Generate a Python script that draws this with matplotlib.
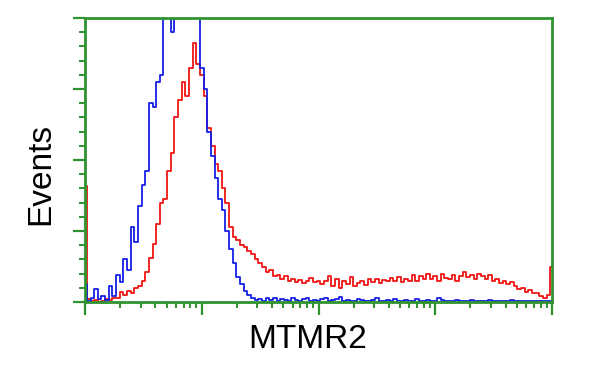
import numpy as np
import matplotlib
matplotlib.use("Agg")
import matplotlib.pyplot as plt
from matplotlib.ticker import LogLocator, MultipleLocator, NullFormatter

# 通道：4个数量级，每个数量级32个通道
N_CH = 129
channels = 10 ** (np.arange(N_CH) / 32.0)

# 对照（蓝色）
blue_counts = [
    0.25, 0.02, 0.05, 0.18, 0.04, 0.08, 0.03, 0.22, 0.08, 0.38,
    0.28, 0.60, 0.45, 1.05, 0.85, 1.35, 1.65, 1.85, 2.80, 2.75,
    3.10, 3.20, 4.40, 4.60, 3.80, 4.80, 5.00, 5.10, 4.90, 4.80,
    4.50, 4.20, 3.30, 3.00, 2.40, 2.05, 1.75, 1.45, 1.30, 1.00,
    0.75, 0.55, 0.35, 0.25, 0.15, 0.10, 0.06, 0.03, 0.04, 0.02,
    0.05, 0.03, 0.06, 0.02, 0.04, 0.03, 0.02, 0.05, 0.03, 0.01,
    0.04, 0.06, 0.02, 0.03, 0.01, 0.04, 0.05, 0.02, 0.03, 0.04,
    0.07, 0.02, 0.03, 0.01, 0.02, 0.04, 0.03, 0.01, 0.02, 0.03,
    0.05, 0.02, 0.01, 0.03, 0.02, 0.04, 0.01, 0.02, 0.03, 0.01,
    0.02, 0.04, 0.02, 0.01, 0.03, 0.02, 0.01, 0.05, 0.03, 0.02,
    0.01, 0.02, 0.03, 0.01, 0.02, 0.01, 0.03, 0.02, 0.01, 0.02,
    0.01, 0.03, 0.01, 0.02, 0.01, 0.02, 0.01, 0.03, 0.02, 0.01,
    0.02, 0.01, 0.01, 0.02, 0.01, 0.01, 0.02, 0.01, 0.02,
]

# MTMR2（红色）
red_counts = [
    1.63, 0.04, 0.02, 0.03, 0.00, 0.02, 0.04, 0.03, 0.06, 0.05,
    0.14, 0.10, 0.15, 0.12, 0.20, 0.22, 0.30, 0.42, 0.62, 0.82,
    1.10, 1.40, 1.45, 1.85, 2.10, 2.60, 2.85, 3.10, 2.90, 3.30,
    3.65, 3.35, 3.20, 2.90, 2.45, 2.20, 1.95, 1.85, 1.60, 1.40,
    1.06, 0.92, 0.88, 0.80, 0.78, 0.72, 0.68, 0.60, 0.55, 0.50,
    0.42, 0.45, 0.36, 0.38, 0.33, 0.36, 0.30, 0.32, 0.28, 0.31,
    0.27, 0.29, 0.34, 0.28, 0.30, 0.26, 0.30, 0.36, 0.22, 0.33,
    0.20, 0.30, 0.25, 0.35, 0.22, 0.27, 0.30, 0.24, 0.32, 0.28,
    0.33, 0.27, 0.31, 0.30, 0.34, 0.30, 0.35, 0.28, 0.33, 0.30,
    0.38, 0.30, 0.37, 0.32, 0.40, 0.33, 0.36, 0.30, 0.40, 0.34,
    0.33, 0.38, 0.30, 0.36, 0.42, 0.35, 0.38, 0.32, 0.40, 0.36,
    0.33, 0.38, 0.30, 0.32, 0.27, 0.30, 0.25, 0.28, 0.22, 0.18,
    0.20, 0.14, 0.17, 0.12, 0.13, 0.08, 0.06, 0.10, 0.50,
]

green = "#2f9330"

fig = plt.figure(figsize=(6, 3.75), dpi=100)
ax = fig.add_axes([85 / 600, 73 / 375, 467 / 600, 284 / 375])

ax.step(channels, red_counts, where="mid", color="#f01414", lw=1.3)
ax.step(channels, blue_counts, where="mid", color="#1420e6", lw=1.3)

ax.set_xscale("log")
ax.set_xlim(1, 1e4)
ax.set_ylim(0, 4)

ax.xaxis.set_major_locator(LogLocator(base=10))
ax.xaxis.set_minor_locator(LogLocator(base=10, subs=np.arange(2, 10)))
ax.xaxis.set_major_formatter(NullFormatter())
ax.xaxis.set_minor_formatter(NullFormatter())
ax.yaxis.set_major_locator(MultipleLocator(1))
ax.yaxis.set_minor_locator(MultipleLocator(0.2))
ax.yaxis.set_major_formatter(NullFormatter())

for s in ax.spines.values():
    s.set_color(green)
    s.set_linewidth(2)
ax.tick_params(which="major", length=9, width=1.6, color=green, direction="out")
ax.tick_params(which="minor", length=4, width=1.4, color=green, direction="out")
ax.tick_params(top=False, right=False)

fig.text(308 / 600, 1 - 340 / 375, "MTMR2", ha="center", va="center",
         fontsize=24, family=["Liberation Sans", "DejaVu Sans"])
fig.text(41 / 600, 1 - 174 / 375, "Events", ha="center", va="center",
         rotation=90, fontsize=24, family=["Liberation Sans", "DejaVu Sans"])

plt.savefig("out.png", dpi=100)
plt.close()
